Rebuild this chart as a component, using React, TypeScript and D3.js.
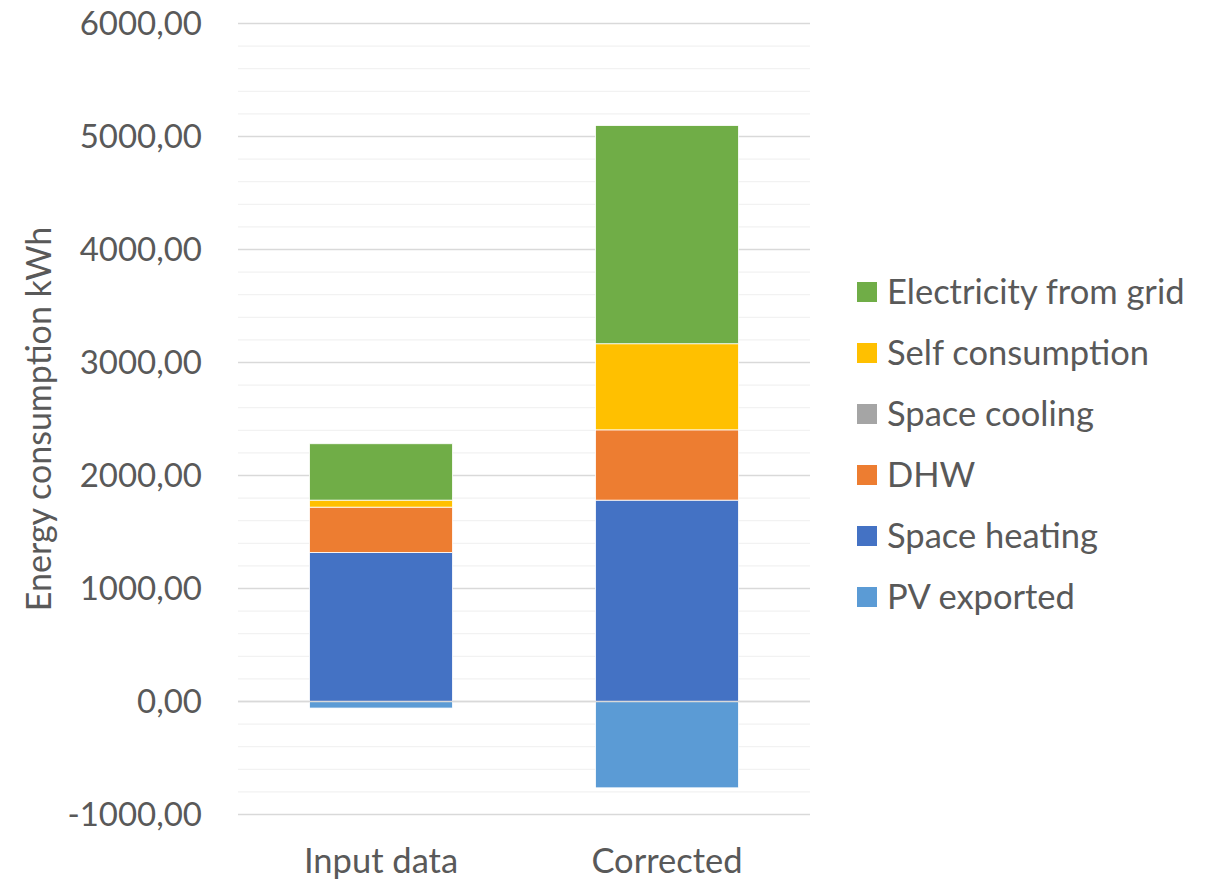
import React from "react";
import * as d3 from "d3";

const categories = ["Input data", "Corrected"];
const seriesNames = [
  "PV exported",
  "Space heating",
  "DHW",
  "Space cooling",
  "Self consumption",
  "Electricity from grid",
];
const pvExported = [-58, -764];
const spaceHeating = [1319, 1782];
const dhw = [401, 622];
const spaceCooling = [0, 0];
const selfConsumption = [62, 762];
const electricityFromGrid = [499, 1931];
const seriesColors = ["#5B9BD5", "#4472C4", "#ED7D31", "#A5A5A5", "#FFC000", "#70AD47"];
const legendOrder = [
  "Electricity from grid",
  "Self consumption",
  "Space cooling",
  "DHW",
  "Space heating",
  "PV exported",
];
const yTicks = [-1000, 0, 1000, 2000, 3000, 4000, 5000, 6000];

const W = 1205;
const H = 880;
const FONT = "Lato, 'Open Sans', sans-serif";
const TXT = "#595959";

export default function App() {
  const values = [pvExported, spaceHeating, dhw, spaceCooling, selfConsumption, electricityFromGrid];
  const rows = categories.map((c, i) => {
    const r: any = { category: c };
    seriesNames.forEach((s, j) => (r[s] = values[j][i]));
    return r;
  });
  const stacked = d3
    .stack<any>()
    .keys(seriesNames)
    .order(d3.stackOrderNone)
    .offset(d3.stackOffsetDiverging)(rows);

  const x = d3
    .scaleBand<string>()
    .domain(categories)
    .range([238, 810])
    .paddingInner(0.5)
    .paddingOuter(0.25);
  const y = d3.scaleLinear().domain([-1000, 6000]).range([814.5, 23.5]);
  const color = d3.scaleOrdinal<string, string>().domain(seriesNames).range(seriesColors);

  const minorTicks = d3.range(-1000, 6001, 200).filter((v) => v % 1000 !== 0);
  const fmt = (v: number) => v.toFixed(2).replace(".", ",");

  return (
    <div style={{ position: "absolute", left: 0, top: 0 }}>
      <svg width={W} height={H} style={{ display: "block", background: "#fff" }}>
        {minorTicks.map((t) => (
          <line key={"m" + t} x1={238} x2={810} y1={y(t)} y2={y(t)} stroke="#F2F2F2" strokeWidth={1.3} />
        ))}
        {yTicks.map((t) => (
          <line key={"M" + t} x1={238} x2={810} y1={y(t)} y2={y(t)} stroke="#D9D9D9" strokeWidth={1.3} />
        ))}
        {stacked.map((s) =>
          s.map((d, i) => {
            const y0 = y(Math.max(d[0], d[1]));
            const y1 = y(Math.min(d[0], d[1]));
            if (y1 - y0 <= 0) return null;
            return (
              <rect
                key={s.key + i}
                x={x(categories[i])}
                width={x.bandwidth()}
                y={y0}
                height={y1 - y0}
                fill={color(s.key)}
                stroke="#fff"
                strokeWidth={0.8}
              />
            );
          })
        )}
        <line x1={238} x2={810} y1={y(0)} y2={y(0)} stroke="#D9D9D9" strokeWidth={1.3} />
        {yTicks.map((t) => (
          <text
            key={"t" + t}
            x={202}
            y={y(t)}
            dy="0.35em"
            textAnchor="end"
            fontFamily={FONT}
            fontSize={33}
            fill={TXT}
          >
            {fmt(t)}
          </text>
        ))}
        {categories.map((c) => (
          <text
            key={"c" + c}
            x={(x(c) as number) + x.bandwidth() / 2}
            y={873}
            textAnchor="middle"
            fontFamily={FONT}
            fontSize={34.5}
            fill={TXT}
          >
            {c}
          </text>
        ))}
        <text
          transform={`translate(51, ${(y(6000) + y(-1000)) / 2}) rotate(-90)`}
          textAnchor="middle"
          fontFamily={FONT}
          fontSize={34}
          fill={TXT}
        >
          Energy consumption kWh
        </text>
        {legendOrder.map((name, i) => {
          const cy = 292 + i * 61;
          return (
            <g key={"l" + name}>
              <rect x={857} y={cy - 10} width={20} height={20} fill={color(name)} />
              <text x={887} y={cy} dy="0.35em" fontFamily={FONT} fontSize={34.5} fill={TXT}>
                {name}
              </text>
            </g>
          );
        })}
      </svg>
    </div>
  );
}
